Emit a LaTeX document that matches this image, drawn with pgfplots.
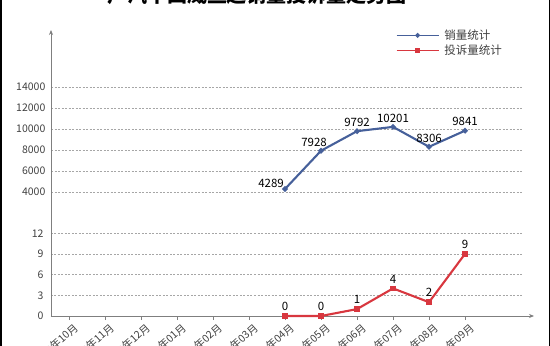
\documentclass[border=0pt]{standalone}
\usepackage{pgfplots}
\pgfplotsset{compat=1.18}
\usepackage{fontspec}
\setmainfont{Noto Sans CJK SC}
\usetikzlibrary{arrows.meta}
\definecolor{cblue}{HTML}{46609A}
\definecolor{cred}{HTML}{D8373F}
\definecolor{cgrid}{HTML}{A6A6A6}
\definecolor{caxis}{HTML}{7F7F7F}
\definecolor{ctext}{HTML}{404040}
\begin{document}
\begin{tikzpicture}[x=1pt,y=1pt]
\pgfplotsset{
  common/.style={
    scale only axis, width=472pt, xmin=-0.5, xmax=12.61,
    anchor=south west,
    scaled y ticks=false,
    /pgf/number format/assume math mode=true,
    /pgf/number format/1000 sep={},
    tick label style={font=\fontsize{10.5}{12}\selectfont, text=ctext},
    ymajorgrids, grid style={cgrid, dash pattern=on 2pt off 1.5pt, line width=0.5pt},
    ytick style={draw=none},
    clip=false,
  },
}
% bottom axis: complaints
\begin{axis}[common, at={(51pt,30pt)}, height=116pt,
  ymin=0, ymax=16.81, ytick={0,3,6,9,12},
  axis x line=bottom, axis y line=left,
  x axis line style={draw=caxis, line width=0.8pt, -{Stealth[length=5pt,width=4pt]}, shorten >=-11pt},
  y axis line style={draw=caxis, line width=0.8pt, -},
  xtick={0,...,11},
  xticklabels={2020年10月,2020年11月,2020年12月,2021年01月,2021年02月,2021年03月,2021年04月,2021年05月,2021年06月,2021年07月,2021年08月,2021年09月},
  xticklabel style={rotate=42, anchor=north east, xshift=5pt, yshift=-1pt, font=\fontsize{10.5}{12}\selectfont},
  xtick style={draw=caxis, line width=0.6pt}, major tick length=4pt, tick align=outside,
  nodes near coords, every node near coord/.append style={font=\fontsize{11.5}{12}\selectfont, text=black, anchor=south, yshift=1pt},
]
\addplot[cred, line width=2.1pt, mark=square*, mark size=1.7pt] coordinates {(6,0) (7,0) (8,1) (9,4) (10,2) (11,9)};
\end{axis}
% top axis: sales
\begin{axis}[common, at={(51pt,146pt)}, height=170pt,
  ymin=3238, ymax=19428, ytick={4000,6000,8000,10000,12000,14000},
  axis x line=none, axis y line=left,
  y axis line style={draw=caxis, line width=0.8pt, -{Stealth[length=5pt,width=4pt]}, shorten <=-1pt},
  xtick=\empty,
  legend style={at={(0.728,1.02)}, anchor=north west, draw=none, fill=none,
    font=\fontsize{11.5}{13}\selectfont, text=ctext, row sep=0pt, inner sep=1pt,
    nodes={inner xsep=5pt}},
  legend cell align=left,
  legend image code/.code={\draw[#1, line width=1.5pt, mark repeat=2, mark phase=2] plot coordinates {(0pt,0pt) (21pt,0pt) (42pt,0pt)};},
]
\addplot[cblue, line width=2.1pt, mark=*, mark size=1.6pt] coordinates {(6,4289) (7,7928) (8,9792) (9,10201) (10,8306) (11,9841)};
\addlegendentry{销量统计}
\addlegendimage{cred, line width=2.1pt, mark=square*, mark size=1.6pt}
\addlegendentry{投诉量统计}
\node[font=\fontsize{11.5}{12}\selectfont, anchor=south east, inner sep=1pt] at (axis cs:6,4289) {4289};
\node[font=\fontsize{11.5}{12}\selectfont, anchor=south, xshift=-7pt, yshift=1pt] at (axis cs:7,7928) {7928};
\node[font=\fontsize{11.5}{12}\selectfont, anchor=south, yshift=1pt] at (axis cs:8,9792) {9792};
\node[font=\fontsize{11.5}{12}\selectfont, anchor=south, yshift=1pt] at (axis cs:9,10201) {10201};
\node[font=\fontsize{11.5}{12}\selectfont, anchor=south, yshift=1pt] at (axis cs:10,8306) {8306};
\node[font=\fontsize{11.5}{12}\selectfont, anchor=south, yshift=1pt] at (axis cs:11,9841) {9841};
\end{axis}
% title (cut off at top as in reference)
\node[font=\bfseries\fontsize{20}{20}\selectfont, anchor=base, inner sep=0pt] at (257pt,343pt) {广汽丰田威兰达销量投诉量走势图};
% frame edges
\draw[line width=2pt] (1pt,0pt) -- (1pt,346pt);
\draw[line width=1pt] (549.5pt,0pt) -- (549.5pt,346pt);
\pgfresetboundingbox
\path[use as bounding box] (0pt,0pt) rectangle (550pt,346pt);
\end{tikzpicture}
\end{document}
